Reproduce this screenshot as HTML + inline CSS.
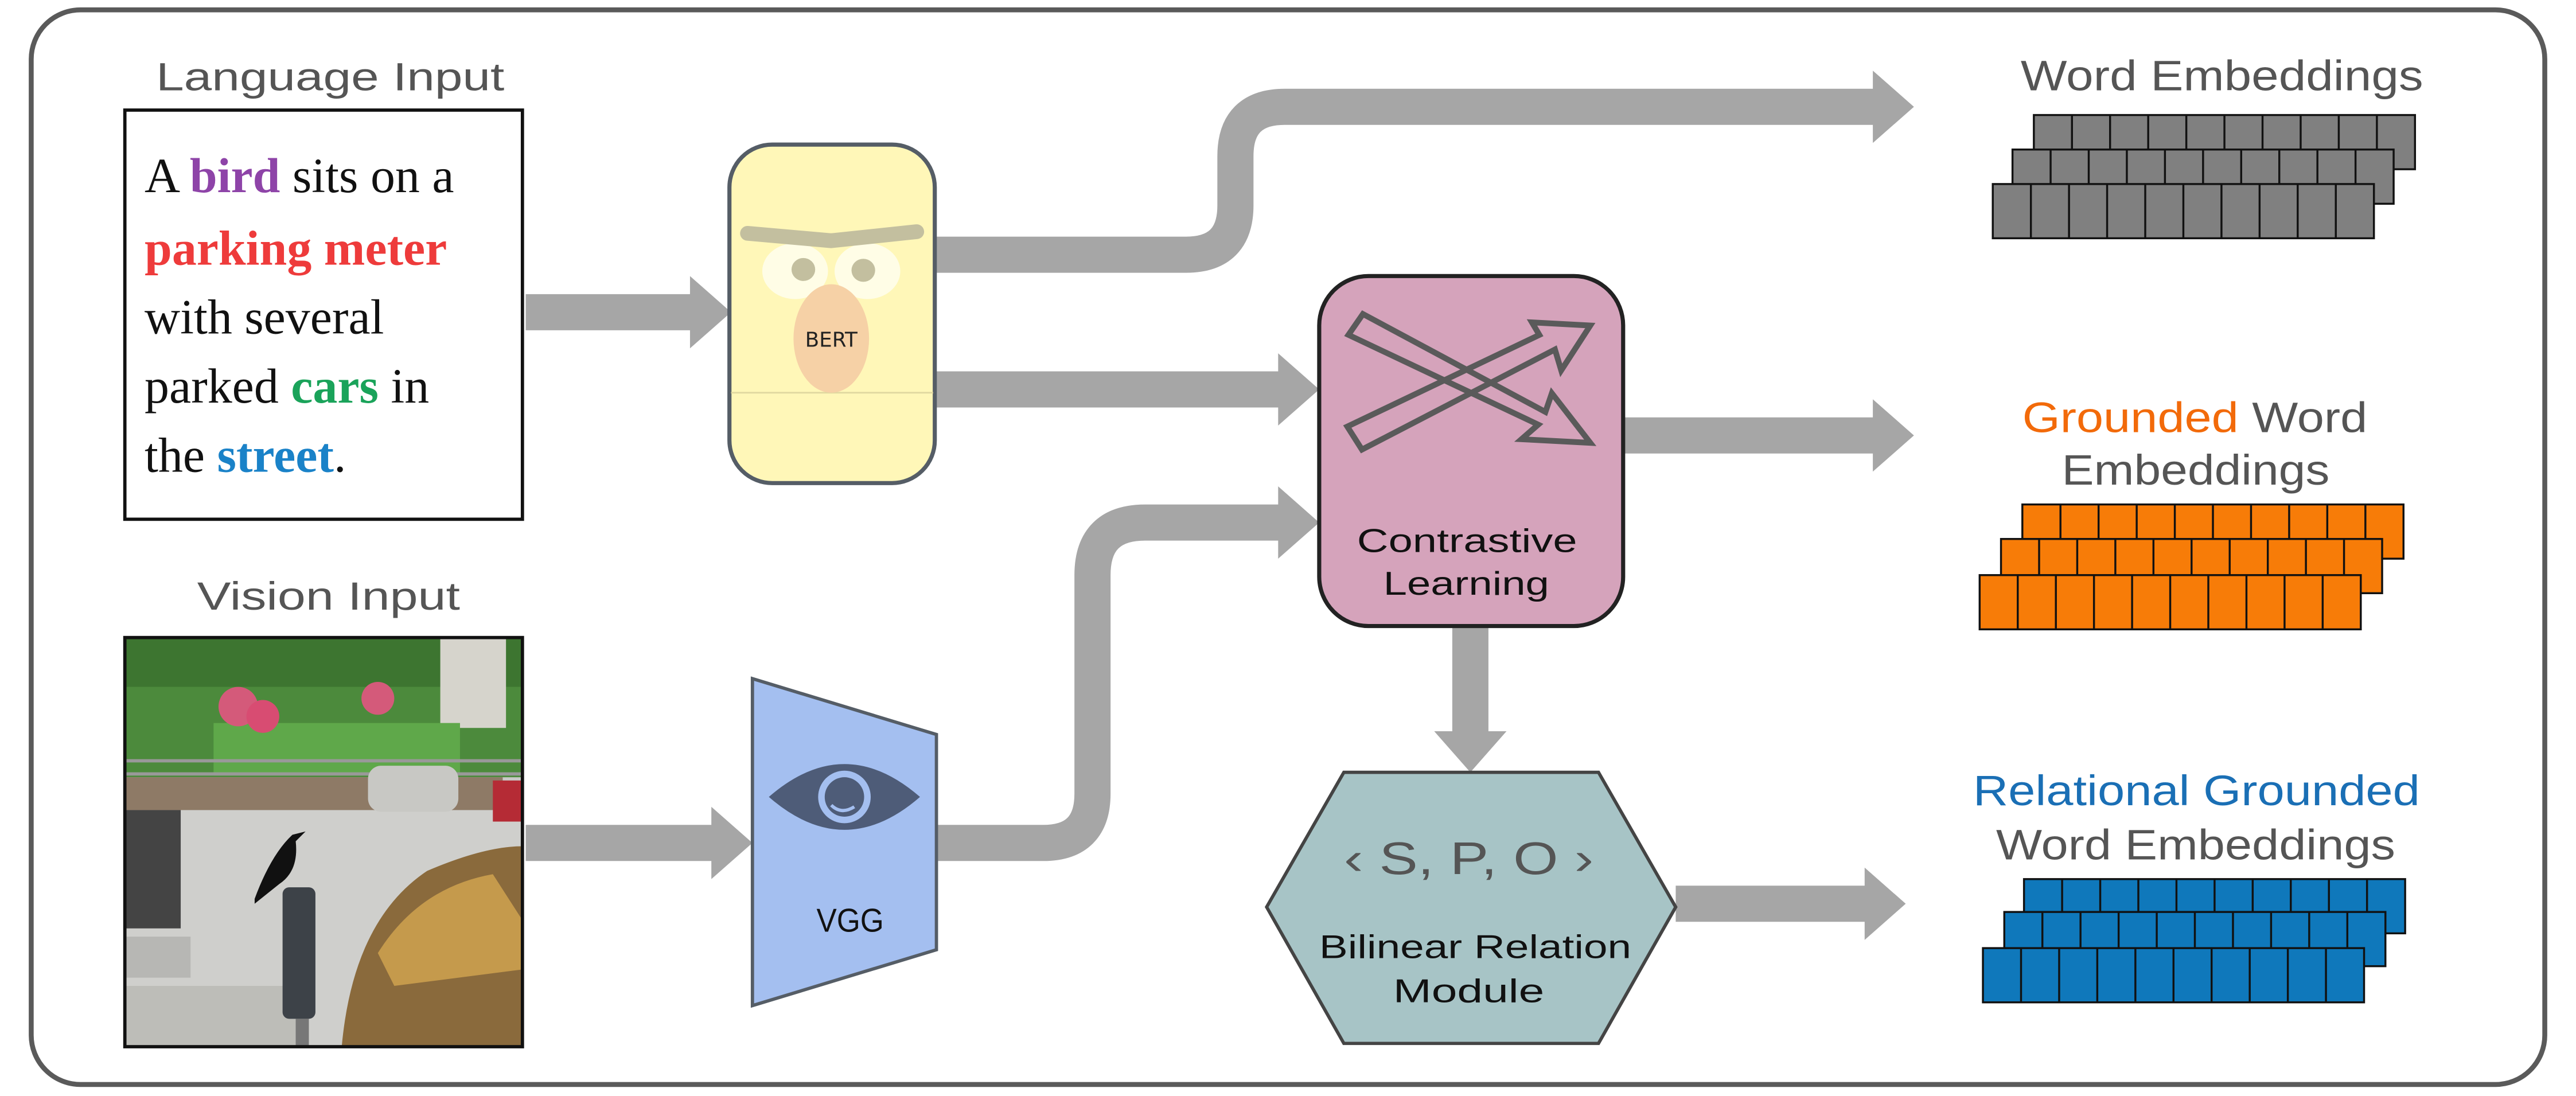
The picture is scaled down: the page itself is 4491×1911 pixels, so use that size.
<!DOCTYPE html>
<html><head><meta charset="utf-8"><style>
html,body{margin:0;padding:0;background:#fff;}
svg{display:block;}
</style></head><body>
<svg width="4491" height="1911" viewBox="0 0 1568 667" preserveAspectRatio="none" xmlns="http://www.w3.org/2000/svg">
<defs>
<g id="row">
<rect x="0" y="0" width="232" height="33" fill="currentColor" stroke="#111" stroke-width="1.2"/>
<path d="M23.2 0V33M46.4 0V33M69.6 0V33M92.8 0V33M116 0V33M139.2 0V33M162.4 0V33M185.6 0V33M208.8 0V33" stroke="#111" stroke-width="1.2"/>
</g>
</defs>
<rect x="0" y="0" width="1568" height="667" fill="#fff"/>
<rect x="19" y="6" width="1530" height="654" rx="30" fill="#fff" stroke="#5a5a5a" stroke-width="3"/>

<!-- connectors -->
<g fill="none" stroke="#a6a6a6" stroke-width="22">
<path d="M320 190 H422"/>
<path d="M570 155 H722 Q752 155 752 125 V95 Q752 65 782 65 H1142"/>
<path d="M570 237 H780"/>
<path d="M988 265 H1142"/>
<path d="M895 381 V447"/>
<path d="M1020 550 H1137"/>
<path d="M320 513 H435"/>
<path d="M570 513 H635 Q665 513 665 483 V350 Q665 318 697 318 H780"/>
</g>
<g fill="#a6a6a6">
<polygon points="420,168 445,190 420,212"/>
<polygon points="1140,43 1165,65 1140,87"/>
<polygon points="778,215 803,237 778,259"/>
<polygon points="1140,243 1165,265 1140,287"/>
<polygon points="873,445 917,445 895,470"/>
<polygon points="1135,528 1160,550 1135,572"/>
<polygon points="433,491 458,513 433,535"/>
<polygon points="778,296 803,318 778,340"/>
</g>

<!-- Language input -->
<text x="95" y="55" textLength="212" lengthAdjust="spacingAndGlyphs" font-family="Liberation Sans, sans-serif" font-size="24" fill="#555">Language Input</text>
<rect x="76" y="67" width="242" height="249" fill="#fff" stroke="#111" stroke-width="2"/>
<g font-family="Liberation Serif, serif" font-size="30" fill="#111">
<text x="88" y="117">A <tspan fill="#8e44a8" font-weight="bold">bird</tspan> sits on a</text>
<text x="88" y="161"><tspan fill="#ee3b3b" font-weight="bold">parking meter</tspan></text>
<text x="88" y="203">with several</text>
<text x="88" y="245">parked <tspan fill="#1aa35a" font-weight="bold">cars</tspan> in</text>
<text x="88" y="287">the <tspan fill="#1a82c8" font-weight="bold">street</tspan>.</text>
</g>

<!-- Vision input -->
<text x="120" y="371" textLength="160" lengthAdjust="spacingAndGlyphs" font-family="Liberation Sans, sans-serif" font-size="24" fill="#555">Vision Input</text>
<g>
<rect x="76" y="388" width="242" height="249" fill="#c9c9c6"/>
<rect x="76" y="388" width="242" height="85" fill="#4c8a3c"/>
<rect x="76" y="388" width="242" height="30" fill="#3d7530"/>
<rect x="268" y="388" width="40" height="55" fill="#d6d4cc"/>
<rect x="130" y="440" width="150" height="32" fill="#5fa84a"/>
<circle cx="145" cy="430" r="12" fill="#d45a7a"/>
<circle cx="160" cy="436" r="10" fill="#d84c72"/>
<circle cx="230" cy="425" r="10" fill="#d45a7a"/>
<rect x="76" y="462" width="242" height="2" fill="#999"/>
<rect x="76" y="470" width="242" height="2" fill="#999"/>
<rect x="76" y="473" width="230" height="20" fill="#8e7a66"/>
<rect x="76" y="493" width="242" height="144" fill="#cfcfcc"/>
<rect x="76" y="600" width="110" height="37" fill="#bdbdb8"/>
<rect x="76" y="570" width="40" height="25" fill="#b7b7b4"/>
<rect x="224" y="466" width="55" height="28" rx="8" fill="#c8c8c4"/>
<rect x="300" y="475" width="18" height="25" fill="#b52b35"/>
<rect x="76" y="493" width="34" height="72" fill="#444"/>
<path d="M208 637 Q215 560 260 530 Q295 515 318 515 V637 Z" fill="#8a6a3c"/>
<path d="M230 580 Q255 540 300 532 L318 560 V590 L240 600 Z" fill="#c59a4c"/>
<rect x="172" y="540" width="20" height="80" rx="4" fill="#3d4248"/>
<rect x="180" y="620" width="8" height="17" fill="#777"/>
<path d="M155 547 Q165 520 178 508 L186 506 L180 512 Q182 530 170 538 L155 550 Z" fill="#111"/>
</g>
<rect x="76" y="388" width="242" height="249" fill="none" stroke="#111" stroke-width="2"/>

<!-- BERT -->
<rect x="444" y="88" width="125" height="206" rx="26" fill="#fff7b8" stroke="#555d66" stroke-width="2.5"/>
<line x1="445" y1="239" x2="568" y2="239" stroke="#e0d8a0" stroke-width="1"/>
<ellipse cx="484" cy="165" rx="20" ry="17" fill="#fffde6"/>
<ellipse cx="528" cy="165" rx="20" ry="17" fill="#fffde6"/>
<ellipse cx="489" cy="164" rx="7.2" ry="7" fill="#c3bf9f"/>
<ellipse cx="525.5" cy="164.5" rx="7.2" ry="7" fill="#c3bf9f"/>
<path d="M455 142 L506 146.5 L558 141" fill="none" stroke="#c3bf9f" stroke-width="9" stroke-linecap="round" stroke-linejoin="round"/>
<ellipse cx="506" cy="206" rx="23" ry="33" fill="#f6d1a6"/>
<text x="506" y="211" text-anchor="middle" font-family="DejaVu Sans, sans-serif" font-size="12.5" fill="#222">BERT</text>

<!-- VGG -->
<polygon points="458,413 570,447 570,578 458,612" fill="#a4bff0" stroke="#555d66" stroke-width="2"/>
<path d="M468 485 Q514 445 560 485 Q514 525 468 485 Z" fill="#4e5c78"/>
<circle cx="514" cy="485" r="16" fill="#a4bff0"/>
<circle cx="514" cy="485" r="12" fill="#4e5c78"/>
<path d="M506 490 Q512 496 520 491" fill="none" stroke="#a4bff0" stroke-width="2"/>
<text x="497" y="567" textLength="41" lengthAdjust="spacingAndGlyphs" font-family="Liberation Sans, sans-serif" font-size="20" fill="#111">VGG</text>

<!-- Contrastive -->
<rect x="803" y="168" width="185" height="213" rx="30" fill="#d5a3bb" stroke="#222" stroke-width="2.5"/>
<g fill="none" stroke="#5a5a5a" stroke-width="3.5" stroke-linejoin="miter">
<polygon points="820.8,203.8 936.3,258.4 926.1,267.3 968,269.5 944.6,239.3 940.7,250.7 829.6,191.1"/>
<polygon points="820.1,259.6 937,203.8 932.5,196.2 968,198.1 950.3,225.4 946.5,212.7 829,273.6"/>
</g>
<text x="826" y="336" textLength="134" lengthAdjust="spacingAndGlyphs" font-family="Liberation Sans, sans-serif" font-size="20" fill="#111">Contrastive</text>
<text x="842" y="362" textLength="101" lengthAdjust="spacingAndGlyphs" font-family="Liberation Sans, sans-serif" font-size="20" fill="#111">Learning</text>

<!-- Hexagon -->
<polygon points="771,552 818,470 973,470 1020,552 973,635 818,635" fill="#a7c4c6" stroke="#444" stroke-width="2"/>
<text x="818" y="532" textLength="152" lengthAdjust="spacingAndGlyphs" font-family="Liberation Sans, sans-serif" font-size="28" fill="#555">‹ S, P, O ›</text>
<text x="803" y="583" textLength="190" lengthAdjust="spacingAndGlyphs" font-family="Liberation Sans, sans-serif" font-size="20" fill="#111">Bilinear Relation</text>
<text x="848" y="610" textLength="92" lengthAdjust="spacingAndGlyphs" font-family="Liberation Sans, sans-serif" font-size="20" fill="#111">Module</text>

<!-- Right labels -->
<g font-family="Liberation Sans, sans-serif" font-size="26" fill="#555" lengthAdjust="spacingAndGlyphs">
<text x="1230" y="55" textLength="245" lengthAdjust="spacingAndGlyphs">Word Embeddings</text>
<text x="1231" y="263" textLength="210" lengthAdjust="spacingAndGlyphs"><tspan fill="#f26a0a">Grounded</tspan> Word</text>
<text x="1255" y="295" textLength="163" lengthAdjust="spacingAndGlyphs">Embeddings</text>
<text x="1201" y="490" textLength="272" lengthAdjust="spacingAndGlyphs" fill="#1a6fb5">Relational Grounded</text>
<text x="1215" y="523" textLength="243" lengthAdjust="spacingAndGlyphs">Word Embeddings</text>
</g>

<!-- embedding rows -->
<use href="#row" x="1238" y="70" style="color:#808080"/>
<use href="#row" x="1225" y="91" style="color:#808080"/>
<use href="#row" x="1213" y="112" style="color:#808080"/>
<use href="#row" x="1231" y="307" style="color:#f77c08"/>
<use href="#row" x="1218" y="328" style="color:#f77c08"/>
<use href="#row" x="1205" y="350" style="color:#f77c08"/>
<use href="#row" x="1232" y="535" style="color:#0f78bb"/>
<use href="#row" x="1220" y="555" style="color:#0f78bb"/>
<use href="#row" x="1207" y="577" style="color:#0f78bb"/>
</svg>
</body></html>
